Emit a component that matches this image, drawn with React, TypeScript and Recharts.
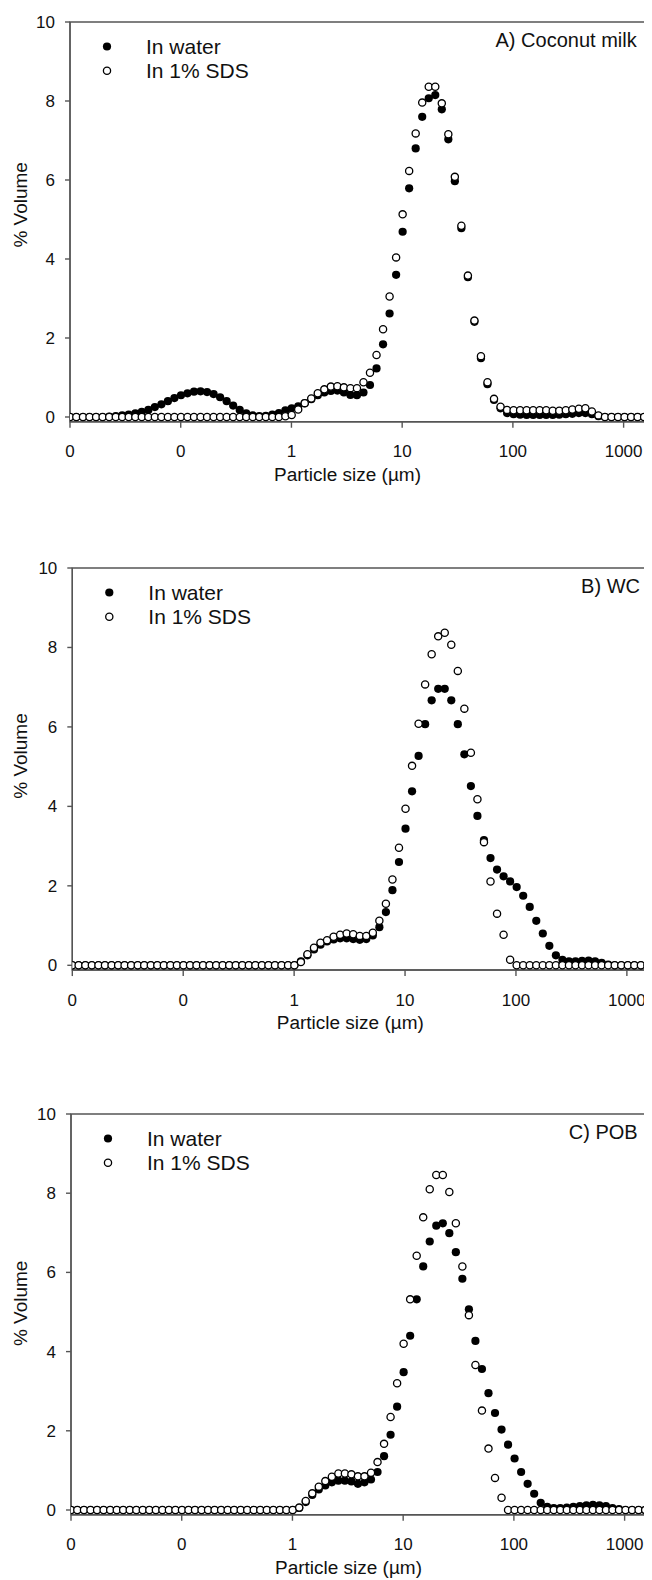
import React from "react";
import { ScatterChart, Scatter, XAxis, YAxis, ReferenceArea, Label } from "recharts";

// particle size classes (µm)
const SIZES = [
  0.01, 0.0114, 0.0131, 0.015, 0.0172, 0.0197, 0.0226, 0.0259, 0.0296, 0.0339, 0.0389, 0.0445, 0.051, 0.0584, 0.0669, 0.0766, 0.0877,
  0.1005, 0.1151, 0.1318, 0.151, 0.1729, 0.1981, 0.2269, 0.2599, 0.2976, 0.3409, 0.3905, 0.4472, 0.5122, 0.5867, 0.672, 0.7697, 0.8816,
  1.005, 1.151, 1.318, 1.51, 1.729, 1.981, 2.269, 2.599, 2.976, 3.409, 3.905, 4.472, 5.122, 5.867, 6.72, 7.697, 8.816,
  10.097, 11.565, 13.246, 15.172, 17.377, 19.904, 22.797, 26.111, 29.907, 34.255, 39.234, 44.938, 51.471, 58.953, 67.523, 77.339, 88.583,
  101.46, 116.21, 133.1, 152.45, 174.62, 200, 229.08, 262.38, 300.52, 344.21, 394.24, 451.56, 517.2, 592.39, 678.5, 777.14, 890.12,
  1019.5, 1167.7, 1337.5, 1531.9,
];

// A) Coconut milk
const A_WATER = [
  0, 0, 0, 0, 0, 0, 0.01, 0.02, 0.04, 0.06, 0.09, 0.13, 0.18, 0.25, 0.32, 0.4, 0.48,
  0.55, 0.6, 0.64, 0.65, 0.63, 0.58, 0.5, 0.4, 0.29, 0.18, 0.09, 0.04, 0.02, 0.03, 0.06, 0.1, 0.17,
  0.22, 0.27, 0.35, 0.45, 0.55, 0.62, 0.66, 0.67, 0.62, 0.56, 0.55, 0.62, 0.81, 1.23, 1.84, 2.62, 3.6,
  4.69, 5.79, 6.8, 7.6, 8.07, 8.15, 7.79, 7.03, 5.97, 4.78, 3.54, 2.41, 1.49, 0.83, 0.43, 0.22, 0.1,
  0.07, 0.06, 0.05, 0.05, 0.05, 0.05, 0.05, 0.06, 0.07, 0.08, 0.1, 0.1, 0.07, 0.02, 0, 0, 0,
  0, 0, 0, 0,
];
const A_SDS = [
  0, 0, 0, 0, 0, 0, 0, 0, 0, 0, 0, 0, 0, 0, 0, 0, 0,
  0, 0, 0, 0, 0, 0, 0, 0, 0, 0, 0, 0, 0, 0, 0, 0, 0.02,
  0.05, 0.19, 0.35, 0.47, 0.6, 0.7, 0.77, 0.78, 0.75, 0.73, 0.73, 0.88, 1.12, 1.57, 2.22, 3.05, 4.04,
  5.13, 6.23, 7.18, 7.96, 8.36, 8.36, 7.94, 7.16, 6.08, 4.84, 3.58, 2.44, 1.54, 0.88, 0.46, 0.26, 0.18,
  0.17, 0.17, 0.17, 0.17, 0.17, 0.17, 0.16, 0.16, 0.17, 0.19, 0.21, 0.22, 0.14, 0.04, 0, 0, 0,
  0, 0, 0, 0,
];

// B) WC
const B_WATER = [
  0, 0, 0, 0, 0, 0, 0, 0, 0, 0, 0, 0, 0, 0, 0, 0, 0,
  0, 0, 0, 0, 0, 0, 0, 0, 0, 0, 0, 0, 0, 0, 0, 0, 0,
  0, 0.1, 0.25, 0.4, 0.52, 0.6, 0.65, 0.68, 0.68, 0.66, 0.64, 0.66, 0.75, 0.96, 1.34, 1.89, 2.6,
  3.44, 4.38, 5.27, 6.07, 6.67, 6.96, 6.96, 6.67, 6.07, 5.31, 4.51, 3.76, 3.15, 2.7, 2.41, 2.24, 2.11,
  1.97, 1.75, 1.47, 1.12, 0.8, 0.49, 0.25, 0.14, 0.1, 0.1, 0.11, 0.12, 0.1, 0.06, 0.02, 0, 0,
  0, 0, 0, 0,
];
const B_SDS = [
  0, 0, 0, 0, 0, 0, 0, 0, 0, 0, 0, 0, 0, 0, 0, 0, 0,
  0, 0, 0, 0, 0, 0, 0, 0, 0, 0, 0, 0, 0, 0, 0, 0, 0,
  0, 0.08, 0.28, 0.44, 0.57, 0.63, 0.72, 0.77, 0.8, 0.78, 0.74, 0.74, 0.82, 1.12, 1.55, 2.16, 2.96,
  3.94, 5.02, 6.08, 7.07, 7.83, 8.28, 8.37, 8.07, 7.41, 6.46, 5.35, 4.18, 3.1, 2.11, 1.3, 0.77, 0.14,
  0, 0, 0, 0, 0, 0, 0, 0, 0, 0, 0, 0, 0, 0, 0, 0, 0,
  0, 0, 0, 0,
];

// C) POB
const C_WATER = [
  0, 0, 0, 0, 0, 0, 0, 0, 0, 0, 0, 0, 0, 0, 0, 0, 0,
  0, 0, 0, 0, 0, 0, 0, 0, 0, 0, 0, 0, 0, 0, 0, 0, 0,
  0, 0.05, 0.2, 0.38, 0.52, 0.62, 0.7, 0.74, 0.74, 0.72, 0.66, 0.7, 0.77, 0.96, 1.36, 1.9, 2.61,
  3.48, 4.4, 5.32, 6.15, 6.78, 7.18, 7.24, 6.99, 6.51, 5.84, 5.07, 4.27, 3.56, 2.95, 2.45, 2.03, 1.65,
  1.3, 0.96, 0.66, 0.41, 0.18, 0.08, 0.05, 0.05, 0.06, 0.08, 0.1, 0.12, 0.13, 0.12, 0.1, 0.05, 0.02,
  0, 0, 0, 0,
];
const C_SDS = [
  0, 0, 0, 0, 0, 0, 0, 0, 0, 0, 0, 0, 0, 0, 0, 0, 0,
  0, 0, 0, 0, 0, 0, 0, 0, 0, 0, 0, 0, 0, 0, 0, 0, 0,
  0, 0.06, 0.23, 0.42, 0.59, 0.73, 0.84, 0.92, 0.92, 0.9, 0.85, 0.85, 0.94, 1.21, 1.67, 2.35, 3.2,
  4.2, 5.32, 6.42, 7.39, 8.1, 8.46, 8.46, 8.03, 7.24, 6.15, 4.92, 3.66, 2.51, 1.55, 0.81, 0.31, 0,
  0, 0, 0, 0, 0, 0, 0, 0, 0, 0, 0, 0, 0, 0, 0, 0, 0,
  0, 0, 0, 0,
];

const PANEL_TITLES = ["A) Coconut milk", "B) WC", "C) POB"];
const SERIES_NAMES = ["In water", "In 1% SDS"];
const X_TICKS = [0.01, 0.1, 1, 10, 100, 1000];
const X_TICK_LABELS = ["0", "0", "1", "10", "100", "1000"];
const Y_TICKS = [0, 2, 4, 6, 8, 10];

const X_DOMAIN = [0.01, 1560];
const Y_DOMAIN = [-0.12, 10];

const FONT = '"Liberation Sans", Arial, sans-serif';
const AXIS = "#555";

// plot rectangles in page pixels
const LAYOUT = [
  { left: 70, right: 645, top: 22, zero: 417, yLabelShift: -17 },
  { left: 72.3, right: 648.3, top: 567.7, zero: 965, yLabelShift: -13 },
  { left: 71, right: 646, top: 1113.6, zero: 1509.6, yLabelShift: -11 },
];

const FILLED_R = 4.1;
const OPEN_R = 3.6;
const OPEN_W = 1.3;

const FilledDot = (p: any) => <circle cx={p.cx} cy={p.cy} r={FILLED_R} fill="#000" />;
const OpenDot = (p: any) => (
  <circle cx={p.cx} cy={p.cy} r={OPEN_R} fill="#fff" stroke="#000" strokeWidth={OPEN_W} />
);

const toPoints = (ys: number[]) => SIZES.map((x, i) => ({ x, y: ys[i] }));

const MT = 12;
const XH = 66;

const Panel = ({ idx, water, sds }: { idx: number; water: number[]; sds: number[] }) => {
  const L = LAYOUT[idx];
  const bottom = L.zero + (0.12 * (L.zero - L.top)) / 10;
  const plotH = bottom - L.top;
  const chartTop = L.top - 8 - MT;
  const chartH = MT + plotH + XH;
  const yAxisW = L.left - 8;
  const mr = 652 - L.right;
  const ox = L.left - 8;

  return (
    <div style={{ position: "absolute", left: 0, top: chartTop, width: 644, height: chartH }}>
      <ScatterChart width={644} height={chartH} margin={{ top: MT, right: mr, left: 0, bottom: 0 }}>
        <ReferenceArea
          x1={X_DOMAIN[0]}
          x2={X_DOMAIN[1]}
          y1={Y_DOMAIN[0]}
          y2={Y_DOMAIN[1]}
          fill="none"
          stroke={AXIS}
          strokeWidth={1.4}
          ifOverflow="visible"
        />
        <XAxis
          dataKey="x"
          type="number"
          scale="log"
          domain={X_DOMAIN}
          allowDataOverflow
          ticks={X_TICKS}
          tickFormatter={(v: number) => X_TICK_LABELS[X_TICKS.indexOf(v)] ?? ""}
          height={XH}
          tickSize={6}
          tickMargin={17.5}
          axisLine={{ stroke: AXIS, strokeWidth: 1.4 }}
          tickLine={{ stroke: AXIS, strokeWidth: 1.4 }}
          tick={{ fill: "#111", fontSize: 17, fontFamily: FONT }}
        >
          <Label
            content={(p: any) => {
              const vb = p.viewBox;
              return (
                <text
                  x={vb.x + vb.width / 2 - 10}
                  y={vb.y + 59}
                  textAnchor="middle"
                  fontSize={19}
                  fontFamily={FONT}
                  fill="#111"
                >
                  Particle size (µm)
                </text>
              );
            }}
          />
        </XAxis>
        <YAxis
          dataKey="y"
          type="number"
          domain={Y_DOMAIN}
          allowDataOverflow
          ticks={Y_TICKS}
          width={yAxisW}
          tickSize={5}
          tickMargin={10}
          axisLine={{ stroke: AXIS, strokeWidth: 1.4 }}
          tickLine={{ stroke: AXIS, strokeWidth: 1.4 }}
          tick={{ fill: "#111", fontSize: 17, fontFamily: FONT }}
        >
          <Label
            content={(p: any) => {
              const vb = p.viewBox;
              const x = 19;
              const y = vb.y + vb.height / 2 + L.yLabelShift;
              return (
                <text
                  x={x}
                  y={y}
                  transform={`rotate(-90, ${x}, ${y})`}
                  textAnchor="middle"
                  fontSize={19}
                  fontFamily={FONT}
                  fill="#111"
                >
                  % Volume
                </text>
              );
            }}
          />
        </YAxis>
        <Scatter data={toPoints(water)} shape={FilledDot} isAnimationActive={false} />
        <Scatter data={toPoints(sds)} shape={OpenDot} isAnimationActive={false} />
      </ScatterChart>

      {/* legend and panel title */}
      <svg
        style={{ position: "absolute", left: 0, top: 0, pointerEvents: "none" }}
        width={644}
        height={chartH}
      >
        <g transform={`translate(${ox}, ${MT})`}>
          <circle cx={37} cy={24.5} r={FILLED_R} fill="#000" />
          <text x={76} y={24.5} dy="0.36em" fontSize={21} fontFamily={FONT} fill="#111">
            {SERIES_NAMES[0]}
          </text>
          <circle cx={37} cy={48.8} r={OPEN_R} fill="#fff" stroke="#000" strokeWidth={OPEN_W} />
          <text x={76} y={48.8} dy="0.36em" fontSize={21} fontFamily={FONT} fill="#111">
            {SERIES_NAMES[1]}
          </text>
          <text
            x={L.right - L.left - 8.3}
            y={18}
            dy="0.36em"
            textAnchor="end"
            fontSize={20}
            fontFamily={FONT}
            fill="#111"
          >
            {PANEL_TITLES[idx]}
          </text>
        </g>
      </svg>
    </div>
  );
};

export default function App() {
  return (
    <div style={{ position: "relative", width: 644, height: 1572, background: "#fff" }}>
      <Panel idx={0} water={A_WATER} sds={A_SDS} />
      <Panel idx={1} water={B_WATER} sds={B_SDS} />
      <Panel idx={2} water={C_WATER} sds={C_SDS} />
    </div>
  );
}
